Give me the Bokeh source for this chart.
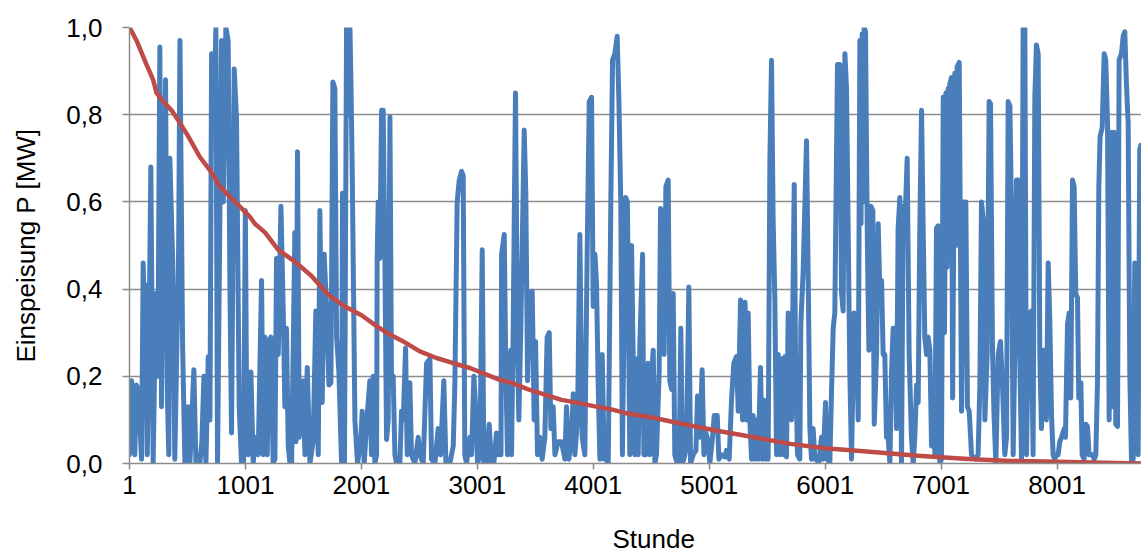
from bokeh.plotting import figure
from bokeh.models import Range1d, FixedTicker, Title
from bokeh.embed import file_html
from bokeh.resources import INLINE

# ---------------- data ----------------
x_ticks = [1, 1001, 2001, 3001, 4001, 5001, 6001, 7001, 8001]
x_tick_labels = ["1", "1001", "2001", "3001", "4001", "5001", "6001", "7001", "8001"]
y_ticks = [0.0, 0.2, 0.4, 0.6, 0.8, 1.0]
y_tick_labels = ["0,0", "0,2", "0,4", "0,6", "0,8", "1,0"]
x_title = "Stunde"
y_title = "Einspeisung P [MW]"

# hourly wind feed-in (peaks and troughs)
blue_hours = [
    1, 19, 30, 47, 60, 76, 105, 119, 130, 142, 154, 170, 185, 205, 228, 245, 263, 277,
    312, 329, 340, 349, 372, 392, 425, 436, 459, 479, 507, 522, 556, 574, 608, 625, 643,
    660, 680, 695, 709, 732, 746, 760, 795, 810, 832, 852, 867, 881, 904, 924, 947, 967,
    985, 1000, 1012,
    1025, 1048, 1068, 1082, 1111, 1140, 1154, 1169, 1189, 1203, 1220, 1240, 1255, 1269,
    1284, 1307, 1327, 1341, 1355, 1370, 1385, 1399, 1427, 1437, 1450, 1465, 1499, 1514,
    1534, 1557, 1585, 1608, 1629, 1643, 1663, 1680, 1700, 1721, 1738, 1755, 1772, 1787,
    1807, 1830, 1838, 1855, 1873, 1890, 1902, 1910, 1922, 1945, 1968, 1997, 2008, 2025,
    2054, 2074, 2088, 2103,
    2117, 2132, 2137, 2146, 2160, 2175, 2189, 2203, 2218, 2232, 2247, 2261, 2275, 2290,
    2304, 2333, 2347, 2362, 2382, 2396, 2419, 2433, 2462, 2491, 2505, 2534, 2563, 2592,
    2606, 2635, 2663, 2684, 2712, 2730, 2764, 2793, 2807, 2827, 2845, 2865, 2879, 2893,
    2908, 2937, 2951, 2971, 2988, 3003, 3023, 3043, 3057, 3080, 3103, 3123, 3143, 3166,
    3181,
    3195, 3205, 3210, 3233, 3247, 3261, 3273, 3290, 3296, 3310, 3330, 3348, 3359, 3376,
    3405, 3419, 3434, 3454, 3474, 3491, 3503, 3520, 3540, 3560, 3583, 3603, 3621, 3635,
    3655, 3670, 3698, 3727, 3756, 3770, 3790, 3813, 3828, 3842, 3865, 3885, 3905, 3928,
    3948, 3966, 3986, 4000, 4015, 4029, 4043, 4058, 4078, 4095, 4115, 4130, 4153, 4167,
    4187, 4207, 4222, 4238, 4252, 4280, 4295, 4316,
    4331, 4345, 4359, 4374, 4388, 4403, 4426, 4437, 4454, 4474, 4489, 4503, 4518, 4532,
    4546, 4569, 4581, 4598, 4612, 4627, 4647, 4661, 4676, 4690, 4704, 4725, 4742, 4756,
    4771, 4791, 4805, 4825, 4840, 4863, 4886, 4900, 4920, 4940, 4955, 4972, 4992, 5006,
    5029, 5044, 5070, 5084, 5107, 5136, 5150, 5173, 5193, 5213, 5236, 5251, 5271, 5288,
    5300, 5310,
    5322, 5337, 5351, 5366, 5380, 5394, 5409, 5423, 5443, 5458, 5475, 5486, 5501, 5509,
    5524, 5538, 5552, 5567, 5581, 5596, 5610, 5624, 5639, 5653, 5667, 5682, 5696, 5711,
    5734, 5745, 5762, 5782, 5791, 5811, 5840, 5854, 5869, 5883, 5897, 5912, 5926, 5946,
    5969, 5984, 6004, 6021, 6041, 6056, 6070, 6084, 6107, 6127, 6142, 6156, 6171, 6185,
    6199, 6214, 6228, 6251, 6265, 6286, 6300, 6310, 6320, 6328, 6337, 6349, 6358, 6366,
    6378, 6395, 6412, 6424,
    6444, 6458, 6472, 6487, 6501, 6515, 6530, 6544, 6559, 6573, 6587, 6602, 6616, 6630,
    6645, 6659, 6674, 6694, 6708, 6725, 6745, 6760, 6774, 6789, 6803, 6817, 6832, 6846,
    6860, 6875, 6889, 6904, 6918, 6932, 6947, 6961, 6975, 6990, 7004, 7019, 7030, 7042,
    7052, 7062, 7070, 7076, 7090, 7100, 7119, 7130, 7139, 7157, 7168, 7177, 7197, 7214,
    7228, 7243, 7263, 7277, 7300, 7320, 7335, 7349, 7364, 7378, 7398, 7415, 7427, 7444,
    7456, 7473, 7493, 7513, 7530, 7550, 7565, 7579, 7594,
    7608, 7622, 7636, 7651, 7665, 7679, 7694, 7708, 7723, 7737, 7751, 7766, 7780, 7794,
    7809, 7823, 7838, 7852, 7866, 7881, 7895, 7909, 7924, 7938, 7953, 7967, 7981, 7996,
    8010, 8024, 8039, 8062, 8073, 8091, 8105, 8119, 8134, 8148, 8162, 8177, 8188, 8206,
    8217, 8234, 8249, 8263, 8277, 8292, 8306, 8321, 8335, 8349, 8361, 8372, 8390, 8407,
    8421, 8436, 8450, 8464, 8479, 8493, 8507, 8522, 8536, 8556, 8571, 8585, 8599, 8614,
    8628, 8643, 8657, 8671, 8686, 8700, 8714, 8723, 8740, 8760,
]
blue_values = [
    0.02, 0.19, 0.05, 0.02, 0.18, 0.17, 0.01, 0.46, 0.30, 0.41, 0.02, 0.30, 0.68, 0.00, 0.39, 0.20, 0.955, 0.13,
    0.88, 0.14, 0.02, 0.70, 0.48, 0.01, 0.50, 0.97, 0.27, 0.00, 0.13, 0.00, 0.215, 0.00, 0.00, 0.05, 0.20,
    0.00, 0.245, 0.10, 0.94, 0.83, 1.00, 0.00, 0.97, 0.60, 1.00, 0.97, 0.41, 0.07, 0.905, 0.79, 0.13, 0.00,
    0.00, 0.58, 0.10,
    0.02, 0.21, 0.00, 0.06, 0.02, 0.42, 0.02, 0.29, 0.02, 0.28, 0.29, 0.00, 0.01, 0.47,
    0.25, 0.59, 0.35, 0.13, 0.31, 0.04, 0.00, 0.00, 0.53, 0.05, 0.715, 0.06, 0.19, 0.02,
    0.22, 0.00, 0.05, 0.35, 0.02, 0.58, 0.14, 0.48, 0.36, 0.18, 0.185, 0.875, 0.86, 0.29,
    0.21, 0.00, 0.62, 0.00, 1.00, 0.80, 1.00, 0.89, 0.67, 0.10, 0.00, 0.06, 0.12, 0.00,
    0.12, 0.19, 0.02, 0.20,
    0.00, 0.02, 0.47, 0.60, 0.47, 0.81, 0.81, 0.48, 0.055, 0.10, 0.795, 0.18, 0.20, 0.02,
    0.00, 0.00, 0.12, 0.10, 0.265, 0.02, 0.185, 0.02, 0.00, 0.06, 0.02, 0.00, 0.23, 0.24,
    0.01, 0.00, 0.08, 0.02, 0.19, 0.00, 0.00, 0.04, 0.18, 0.60, 0.65, 0.67, 0.66, 0.02,
    0.00, 0.06, 0.02, 0.20, 0.12, 0.00, 0.02, 0.49, 0.00, 0.00, 0.09, 0.00, 0.00, 0.07,
    0.02,
    0.07, 0.02, 0.48, 0.525, 0.21, 0.02, 0.21, 0.26, 0.02, 0.31, 0.85, 0.25, 0.10, 0.31,
    0.765, 0.62, 0.19, 0.39, 0.395, 0.10, 0.28, 0.02, 0.06, 0.01, 0.06, 0.29, 0.30, 0.08,
    0.13, 0.02, 0.05, 0.05, 0.01, 0.13, 0.01, 0.06, 0.16, 0.02, 0.10, 0.525, 0.06, 0.02,
    0.48, 0.83, 0.84, 0.36, 0.48, 0.41, 0.18, 0.01, 0.25, 0.01, 0.01, 0.00, 0.62, 0.925,
    0.94, 0.98, 0.83, 0.60, 0.02, 0.61, 0.60, 0.02,
    0.50, 0.24, 0.02, 0.24, 0.02, 0.28, 0.48, 0.02, 0.02, 0.23, 0.02, 0.20, 0.26, 0.00,
    0.02, 0.21, 0.585, 0.56, 0.25, 0.635, 0.65, 0.19, 0.17, 0.39, 0.02, 0.00, 0.02, 0.31,
    0.00, 0.02, 0.04, 0.405, 0.00, 0.02, 0.03, 0.155, 0.06, 0.215, 0.02, 0.07, 0.05, 0.00,
    0.06, 0.11, 0.11, 0.01, 0.02, 0.015, 0.03, 0.01, 0.145, 0.23, 0.245, 0.12, 0.375, 0.10,
    0.35, 0.37,
    0.10, 0.345, 0.10, 0.01, 0.11, 0.01, 0.10, 0.01, 0.22, 0.01, 0.145, 0.01, 0.13, 0.01,
    0.695, 0.925, 0.56, 0.375, 0.02, 0.25, 0.02, 0.24, 0.02, 0.245, 0.015, 0.345, 0.18, 0.10,
    0.64, 0.25, 0.02, 0.01, 0.32, 0.44, 0.74, 0.44, 0.08, 0.01, 0.08, 0.01, 0.01, 0.00,
    0.06, 0.01, 0.14, 0.01, 0.00, 0.17, 0.31, 0.345, 0.915, 0.915, 0.39, 0.35, 0.94, 0.86,
    0.54, 0.20, 0.01, 0.345, 0.33, 0.10, 0.97, 0.55, 0.985, 0.60, 1.00, 0.99, 0.70, 0.48,
    0.26, 0.59, 0.58, 0.09,
    0.25, 0.55, 0.40, 0.42, 0.25, 0.25, 0.06, 0.06, 0.00, 0.21, 0.31, 0.31, 0.08, 0.54,
    0.61, 0.00, 0.59, 0.59, 0.70, 0.25, 0.06, 0.00, 0.06, 0.18, 0.14, 0.54, 0.81, 0.54,
    0.29, 0.25, 0.29, 0.26, 0.04, 0.15, 0.02, 0.54, 0.545, 0.00, 0.01, 0.84, 0.30, 0.85,
    0.45, 0.86, 0.50, 0.87, 0.885, 0.15, 0.895, 0.50, 0.91, 0.92, 0.48, 0.12, 0.60, 0.60,
    0.13, 0.12, 0.02, 0.015, 0.01, 0.02, 0.18, 0.60, 0.56, 0.10, 0.25, 0.83, 0.825, 0.26,
    0.12, 0.00, 0.25, 0.28, 0.18, 0.02, 0.06, 0.83, 0.82,
    0.57, 0.02, 0.25, 0.65, 0.65, 0.25, 0.01, 1.00, 1.00, 0.02, 0.25, 0.345, 0.35, 0.02,
    0.84, 0.96, 0.94, 0.25, 0.08, 0.26, 0.26, 0.10, 0.46, 0.33, 0.11, 0.02, 0.01, 0.02,
    0.02, 0.05, 0.06, 0.08, 0.06, 0.32, 0.345, 0.15, 0.65, 0.635, 0.39, 0.38, 0.15, 0.185,
    0.02, 0.01, 0.09, 0.085, 0.02, 0.02, 0.02, 0.01, 0.02, 0.18, 0.635, 0.75, 0.77, 0.94,
    0.925, 0.78, 0.10, 0.76, 0.13, 0.76, 0.09, 0.085, 0.925, 0.94, 0.98, 0.99, 0.87, 0.78,
    0.21, 0.00, 0.01, 0.46, 0.25, 0.02, 0.72, 0.73, 0.40, 0.20,
]

# sorted duration curve
red_hours = [
    1, 62, 148, 205, 234, 292, 364, 421, 493, 608, 694, 781, 867, 953, 1039, 1082, 1169,
    1284, 1427, 1571, 1715, 1859, 2002, 2117, 2218, 2362, 2505, 2649, 2793, 2937, 3080,
    3195, 3296, 3440, 3583, 3727, 3871, 4015, 4158, 4273, 4518, 4805, 5093, 5351, 5700,
    6000, 6386, 6800, 7200, 7594, 8000, 8400, 8760,
]
red_values = [
    1.00, 0.97, 0.915, 0.88, 0.85, 0.83, 0.81, 0.787, 0.757, 0.703, 0.673, 0.635, 0.612,
    0.589, 0.566, 0.55, 0.53, 0.49, 0.463, 0.43, 0.387, 0.36, 0.34, 0.318, 0.30, 0.28,
    0.257, 0.242, 0.23, 0.219, 0.204, 0.192, 0.185, 0.17, 0.158, 0.146, 0.139, 0.131,
    0.124, 0.116, 0.105, 0.089, 0.074, 0.062, 0.045, 0.035, 0.027, 0.018, 0.011, 0.006,
    0.004, 0.002, 0.0,
]

# ---------------- figure ----------------
FONT = "Liberation Sans"
GRID = "#8c8c8c"

p = figure(width=1141, height=553, output_backend="svg", toolbar_location=None,
           x_range=Range1d(1, 8729), y_range=Range1d(0, 1),
           min_border_left=129, min_border_right=0, min_border_top=27,
           min_border_bottom=89)
p.outline_line_color = None
p.background_fill_color = "white"
p.border_fill_color = "white"

p.xgrid.visible = False
p.ygrid.ticker = FixedTicker(ticks=y_ticks)
p.ygrid.grid_line_color = GRID
p.ygrid.grid_line_width = 1.5

p.line(blue_hours, blue_values, line_color="#4a7ebb", line_width=5,
       line_join="round", line_cap="round")
p.line(red_hours, red_values, line_color="#be4b48", line_width=4.5,
       line_join="round", line_cap="round")

xa = p.xaxis[0]
xa.ticker = FixedTicker(ticks=x_ticks)
xa.major_label_overrides = {t: l for t, l in zip(x_ticks, x_tick_labels)}
xa.major_tick_out = 6
xa.major_label_standoff = 6

ya = p.yaxis[0]
ya.ticker = FixedTicker(ticks=y_ticks)
ya.major_label_overrides = {t: l for t, l in zip(y_ticks, y_tick_labels)}
ya.axis_label = y_title
ya.major_tick_out = 7
ya.major_label_standoff = 20
ya.axis_label_standoff = 22

for ax in (xa, ya):
    ax.axis_line_color = GRID
    ax.axis_line_width = 1.5
    ax.major_tick_line_color = GRID
    ax.major_tick_line_width = 1.5
    ax.major_tick_in = 0
    ax.minor_tick_line_color = None
    ax.major_label_text_font = FONT
    ax.major_label_text_font_size = "26px"
    ax.major_label_text_color = "black"
    ax.axis_label_text_font = FONT
    ax.axis_label_text_font_size = "26px"
    ax.axis_label_text_font_style = "normal"
    ax.axis_label_text_color = "black"

# invisible spacer panel below the x axis to push the x title down
spacer = Title(text=" ", standoff=22, text_font=FONT, text_font_size="1px",
               text_color="white")
p.add_layout(spacer, "below")

xt = Title(text=x_title, align="left", offset=483, standoff=0,
           text_font=FONT, text_font_size="26px", text_font_style="normal",
           text_color="black")
p.add_layout(xt, "below")

open("out.html", "w").write(file_html(p, INLINE))
